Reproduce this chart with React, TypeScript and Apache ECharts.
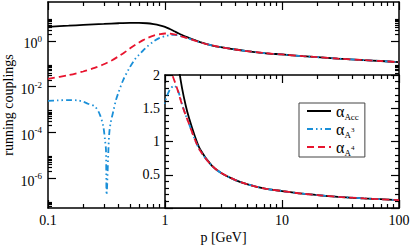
import React, { useEffect, useRef } from 'react';
import * as echarts from 'echarts';

// ---- data ----
const pAcc = [0.1, 0.15, 0.2, 0.3, 0.4, 0.5, 0.6, 0.7, 0.8, 0.9, 1.0, 1.1, 1.2, 1.3, 1.4, 1.5, 1.6, 1.8, 2.0, 2.5, 3, 4, 5, 7, 10, 15, 20, 30, 50, 70, 100];
const alphaAcc = [4.1, 4.6, 5.0, 5.5, 5.9, 6.1, 6.1, 5.9, 5.4, 4.8, 4.1, 3.3, 2.65, 2.15, 1.8, 1.55, 1.36, 1.08, 0.88, 0.64, 0.53, 0.42, 0.36, 0.295, 0.255, 0.215, 0.195, 0.168, 0.145, 0.132, 0.118];

const pA3 = [0.1, 0.12, 0.15, 0.18, 0.2, 0.22, 0.252, 0.278, 0.297, 0.307, 0.313, 0.317, 0.328, 0.334, 0.343, 0.361, 0.381, 0.4, 0.44, 0.5, 0.55, 0.6, 0.65, 0.7, 0.8, 0.9, 1.0, 1.1, 1.2, 1.3, 1.4, 1.5, 1.6, 1.8, 2.0, 2.5, 3, 4, 5, 7, 10, 15, 20, 30, 50, 70, 100];
const alphaA3 = [0.0024, 0.0025, 0.0026, 0.0025, 0.0022, 0.0018, 0.00135, 0.00059, 0.00018, 0.000047, 0.000017, 0.00000019, 0.000015, 0.000093, 0.00026, 0.00081, 0.0026, 0.0055, 0.02, 0.07, 0.15, 0.25, 0.38, 0.55, 0.95, 1.35, 1.6, 1.78, 1.84, 1.75, 1.56, 1.4, 1.27, 1.03, 0.86, 0.64, 0.53, 0.42, 0.36, 0.295, 0.255, 0.215, 0.195, 0.168, 0.145, 0.132, 0.118];

const pA4 = [0.1, 0.15, 0.2, 0.25, 0.3, 0.35, 0.4, 0.45, 0.5, 0.55, 0.6, 0.65, 0.7, 0.8, 0.9, 1.0, 1.1, 1.2, 1.3, 1.4, 1.5, 1.6, 1.8, 2.0, 2.5, 3, 4, 5, 7, 10, 15, 20, 30, 50, 70, 100];
const alphaA4 = [0.022, 0.032, 0.046, 0.066, 0.095, 0.14, 0.21, 0.31, 0.46, 0.64, 0.85, 1.08, 1.3, 1.7, 1.95, 2.1, 2.07, 1.92, 1.74, 1.55, 1.4, 1.27, 1.03, 0.86, 0.64, 0.53, 0.42, 0.36, 0.295, 0.255, 0.215, 0.195, 0.168, 0.145, 0.132, 0.118];

const xMajor = [0.1, 1, 10, 100];
const xMinor = [0.2, 0.3, 0.4, 0.5, 0.6, 0.7, 0.8, 0.9, 2, 3, 4, 5, 6, 7, 8, 9, 20, 30, 40, 50, 60, 70, 80, 90];
const yMajor = [1e-6, 1e-4, 1e-2, 1];
const yMinor = [6e-8, 7e-8, 8e-8, 9e-8,
  2e-6, 3e-6, 4e-6, 5e-6, 6e-6, 7e-6, 8e-6, 9e-6,
  2e-4, 3e-4, 4e-4, 5e-4, 6e-4, 7e-4, 8e-4, 9e-4,
  2e-2, 3e-2, 4e-2, 5e-2, 6e-2, 7e-2, 8e-2, 9e-2,
  2, 3, 4, 5, 6, 7, 8, 9];
const insetXMajor = [1, 10, 100];
const insetXMinor = [2, 3, 4, 5, 6, 7, 8, 9, 20, 30, 40, 50, 60, 70, 80, 90];

const seriesNames = ['Acc', 'A3', 'A4'];
const legendLabels: Record<string, string> = {
  Acc: '{a|α}{s|Acc}',
  A3: '{a|α}{s|A}{p|3}',
  A4: '{a|α}{s|A}{p|4}',
};

const SERIF = '"Liberation Serif", "DejaVu Serif", serif';
const BLUE = '#1a8fd8';
const RED = '#e8142e';

const styles: Record<string, any> = {
  Acc: { color: '#000', width: 1.8, type: 'solid' },
  A3: { color: BLUE, width: 1.8, type: [6, 3, 1.5, 3, 1.5, 3] },
  A4: { color: RED, width: 1.8, type: [7, 4] },
};

const zip = (p: number[], v: number[]) => p.map((x, i) => [x, v[i]]);
const dataSets: Record<string, number[][]> = {
  Acc: zip(pAcc, alphaAcc),
  A3: zip(pA3, alphaA3),
  A4: zip(pA4, alphaA4),
};

const axisLine = { show: true, lineStyle: { color: '#000', width: 1.5 } };
const tickStyle = { color: '#000', width: 1.2 };

function logX(gridIndex: number, position: string, values: number[], len: number, min: number, max: number, extra: any = {}) {
  return {
    type: 'log', gridIndex, position, min, max, logBase: 10,
    axisLine: len > 5 ? axisLine : { show: false },
    axisTick: { show: true, inside: true, length: len, customValues: values, lineStyle: tickStyle },
    axisLabel: { show: false },
    splitLine: { show: false },
    minorTick: { show: false },
    ...extra,
  };
}
function logY(gridIndex: number, position: string, values: number[], len: number, extra: any = {}) {
  return {
    type: 'log', gridIndex, position, min: 5e-8, max: 50, logBase: 10,
    axisLine: len > 5 ? axisLine : { show: false },
    axisTick: { show: true, inside: true, length: len, customValues: values, lineStyle: tickStyle },
    axisLabel: { show: false },
    splitLine: { show: false },
    minorTick: { show: false },
    ...extra,
  };
}

export default function App() {
  const ref = useRef<HTMLDivElement>(null);
  useEffect(() => {
    const chart = echarts.init(ref.current!, null, { renderer: 'svg' });
    const insetZ = { z: 4 };
    const insetY = (position: string, labels: boolean) => ({
      type: 'value', gridIndex: 1, position, min: 0, max: 2, interval: 0.5, z: 4,
      axisLine,
      axisTick: { show: true, inside: true, length: 8, lineStyle: tickStyle },
      minorTick: { show: true, splitNumber: 5, length: 4, lineStyle: tickStyle },
      splitLine: { show: false },
      minorSplitLine: { show: false },
      axisLabel: labels
        ? { show: true, showMinLabel: false, color: '#000', fontFamily: SERIF, fontSize: 14, margin: 5,
            formatter: (v: number) => String(v) }
        : { show: false },
    });
    const option: any = {
      animation: false,
      backgroundColor: '#fff',
      grid: [
        { left: 48, top: 2, width: 351, height: 206, show: false, outerBoundsMode: 'none', containLabel: false },
        { left: 165, top: 75, width: 234, height: 133, show: true, backgroundColor: '#fff', borderWidth: 0, z: 3, outerBoundsMode: 'none', containLabel: false },
      ],
      xAxis: [
        logX(0, 'bottom', xMajor, 8, 0.1, 100, {
          axisLabel: { show: true, customValues: xMajor, color: '#000', fontFamily: SERIF, fontSize: 14, margin: 5,
            formatter: (v: number) => String(v) },
          name: 'p [GeV]', nameLocation: 'middle', nameGap: 22, nameMoveOverlap: false,
          nameTextStyle: { color: '#000', fontFamily: SERIF, fontSize: 14 },
        }),
        logX(0, 'bottom', xMinor, 4, 0.1, 100),
        logX(0, 'top', xMajor, 8, 0.1, 100),
        logX(0, 'top', xMinor, 4, 0.1, 100),
        logX(1, 'bottom', insetXMajor, 8, 1, 100, insetZ),
        logX(1, 'bottom', insetXMinor, 4, 1, 100, insetZ),
        logX(1, 'top', insetXMajor, 8, 1, 100, insetZ),
        logX(1, 'top', insetXMinor, 4, 1, 100, insetZ),
      ],
      yAxis: [
        logY(0, 'left', yMajor, 8, {
          axisLabel: {
            show: true, customValues: yMajor, margin: 6, padding: [0, 0, 4, 0],
            formatter: (v: number) => `{b|10}{s|${Math.round(Math.log10(v))}}`,
            rich: {
              b: { fontSize: 14, fontFamily: SERIF, color: '#000', lineHeight: 14, verticalAlign: 'bottom' },
              s: { fontSize: 9, fontFamily: SERIF, color: '#000', lineHeight: 24 },
            },
          },
          name: 'running couplings', nameLocation: 'middle', nameGap: 33, nameMoveOverlap: false,
          nameTextStyle: { color: '#000', fontFamily: SERIF, fontSize: 14 },
        }),
        logY(0, 'left', yMinor, 4),
        logY(0, 'right', yMajor, 8),
        logY(0, 'right', yMinor, 4),
        insetY('left', true),
        insetY('right', false),
      ],
      legend: {
        data: seriesNames,
        orient: 'vertical', left: 299, top: 103,
        padding: [0, 6, 0, 7], itemGap: 0, itemWidth: 24, itemHeight: 14,
        itemTextGap: 12 as any,
        borderColor: '#444', borderWidth: 1, backgroundColor: '#fff', z: 6,
        itemStyle: { color: 'rgba(0,0,0,0)', borderColor: 'rgba(0,0,0,0)', borderWidth: 0, opacity: 0 },
        formatter: (n: string) => legendLabels[n],
        textStyle: {
          rich: {
            a: { fontSize: 16, fontFamily: SERIF, color: '#000', lineHeight: 20 },
            s: { fontSize: 9, fontFamily: SERIF, color: '#000', lineHeight: 9, verticalAlign: 'bottom' },
            p: { fontSize: 7, fontFamily: SERIF, color: '#000', lineHeight: 8, verticalAlign: 'bottom', padding: [0, 0, 6, 0] },
          },
        },
      },
      series: [
        ...seriesNames.map((n) => ({
          name: n, type: 'line', xAxisIndex: 0, yAxisIndex: 0, data: dataSets[n],
          symbol: 'none', smooth: 0.3, lineStyle: styles[n], itemStyle: { color: styles[n].color }, z: 2,
        })),
        ...seriesNames.map((n) => ({
          name: n, type: 'line', xAxisIndex: 4, yAxisIndex: 4, data: dataSets[n],
          symbol: 'none', smooth: 0.3, lineStyle: styles[n], itemStyle: { color: styles[n].color }, z: 4,
        })),
      ],
    };
    chart.setOption(option);
    return () => chart.dispose();
  }, []);
  return <div ref={ref} style={{ position: 'fixed', left: 0, top: 0, width: 412, height: 245 }} />;
}
